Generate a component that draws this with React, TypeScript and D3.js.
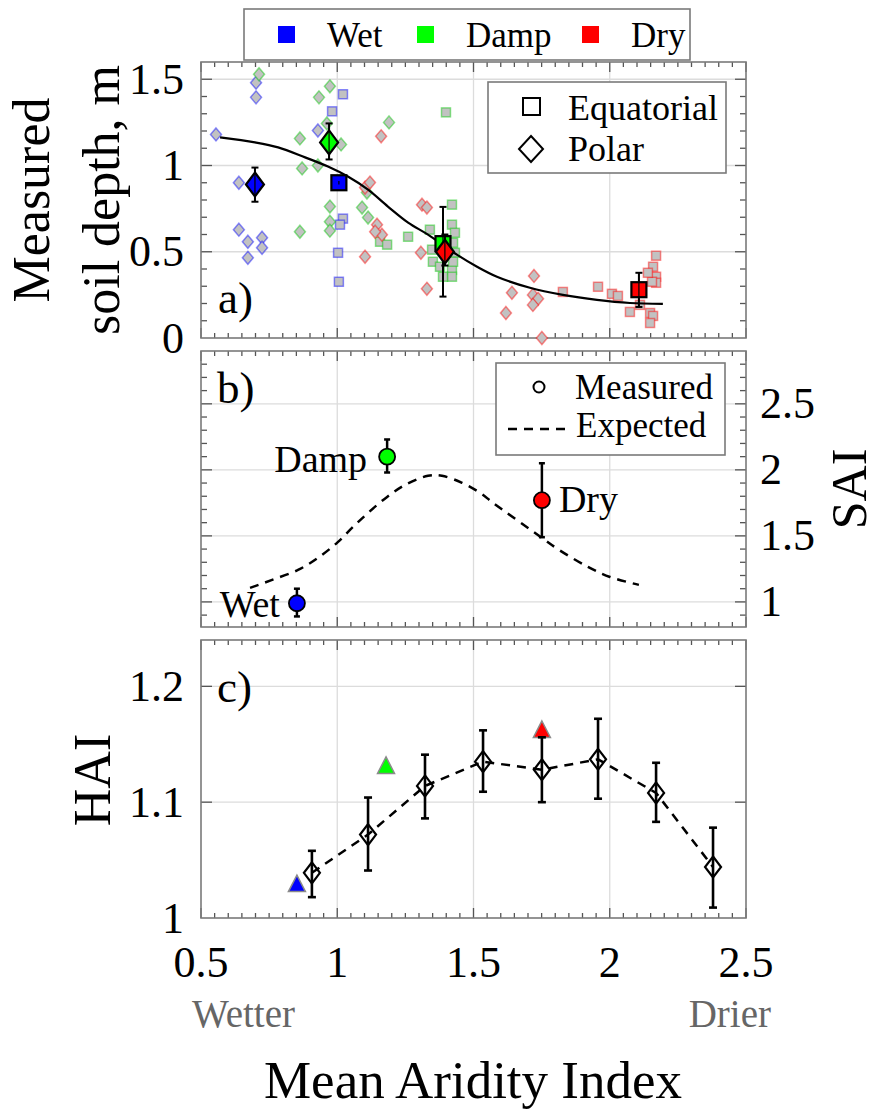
import React from 'react'
import * as d3 from 'd3'

// aridity index vs soil depth (panel a), small site samples
const wetPolar = [
  [0.555, 1.18], [0.702, 1.48], [0.702, 1.395], [0.639, 0.9], [0.639, 0.628],
  [0.672, 0.558], [0.672, 0.465], [0.724, 0.581], [0.724, 0.523], [0.929, 1.203],
]
const wetEquat = [
  [1.021, 1.413], [0.981, 1.314], [1.021, 0.692], [1.01, 0.657], [1.003, 0.494], [1.006, 0.326],
]
const dampPolar = [
  [0.713, 1.529], [0.863, 1.157], [0.871, 0.983], [0.929, 1.0], [0.933, 1.395], [0.973, 1.459],
  [0.962, 1.244], [0.973, 0.762], [0.973, 0.674], [0.973, 0.622], [0.863, 0.616], [1.014, 1.122],
  [1.091, 0.756], [1.113, 0.698], [1.19, 1.25], [1.109, 0.843],
]
const dampEquat = [
  [1.157, 0.558], [1.183, 0.541], [1.26, 0.587], [1.34, 0.628], [1.399, 1.308], [1.421, 0.773],
  [1.421, 0.657], [1.432, 0.61], [1.425, 0.552], [1.348, 0.512], [1.351, 0.442], [1.377, 0.413],
  [1.421, 0.395], [1.421, 0.355], [1.388, 0.355], [1.432, 0.494], [1.425, 0.442],
]
const dryPolar = [
  [1.161, 1.169], [1.102, 0.872], [1.12, 0.901], [1.146, 0.657], [1.164, 0.599], [1.139, 0.616],
  [1.102, 0.471], [1.311, 0.773], [1.329, 0.756], [1.307, 0.494], [1.329, 0.285], [1.722, 0.36],
  [1.641, 0.262], [1.619, 0.145], [1.718, 0.25], [1.737, 0.227], [1.718, 0.192], [1.751, 0.0],
]
const dryEquat = [
  [1.828, 0.267], [1.957, 0.297], [2.008, 0.256], [2.03, 0.244], [2.074, 0.151], [2.111, 0.192],
  [2.148, 0.145], [2.159, 0.128], [2.148, 0.087], [2.159, 0.413], [2.17, 0.477], [2.17, 0.355],
  [2.17, 0.32], [2.155, 0.326], [2.14, 0.378],
]

// group means: [aridity, depth, low, high]
const meanWetPolar = [0.698, 0.89, 0.79, 0.988]
const meanDampPolar = [0.97, 1.134, 1.035, 1.244]
const meanWetEquat = [1.006, 0.9, 0.89, 0.91]
const meanDampEquat = [1.388, 0.547, 0.24, 0.76]
const meanDryPolar = [1.395, 0.5, 0.42, 0.6]
const meanDryEquat = [2.107, 0.28, 0.18, 0.378]

// fitted depth curve
const fitCurve = [
  [0.57, 1.163], [0.698, 1.134], [0.783, 1.105], [0.882, 1.047], [0.966, 0.994], [1.039, 0.936],
  [1.113, 0.86], [1.186, 0.762], [1.26, 0.669], [1.333, 0.599], [1.439, 0.483], [1.513, 0.413],
  [1.586, 0.355], [1.707, 0.291], [1.828, 0.25], [1.953, 0.221], [2.074, 0.203], [2.195, 0.198],
]

// panel b: SAI
const saiGroups = ['Wet', 'Damp', 'Dry']
const saiAridity = [0.852, 1.183, 1.751]
const saiValue = [0.99, 2.1, 1.77]
const saiLow = [0.89, 1.98, 1.49]
const saiHigh = [1.1, 2.23, 2.05]
const saiExpected = [
  [0.68, 1.106], [0.761, 1.167], [0.856, 1.242], [0.929, 1.333], [1.003, 1.455], [1.058, 1.568],
  [1.113, 1.674], [1.183, 1.795], [1.249, 1.886], [1.333, 1.955], [1.384, 1.955], [1.458, 1.902],
  [1.524, 1.826], [1.572, 1.75], [1.751, 1.485], [1.814, 1.394], [1.92, 1.265], [2.001, 1.189],
  [2.107, 1.129],
]

// panel c: HAI
const haiAridity = [0.907, 1.113, 1.322, 1.535, 1.751, 1.957, 2.17, 2.379]
const haiValue = [1.039, 1.072, 1.114, 1.135, 1.128, 1.137, 1.108, 1.044]
const haiLow = [1.018, 1.041, 1.086, 1.109, 1.1, 1.103, 1.083, 1.009]
const haiHigh = [1.058, 1.104, 1.141, 1.162, 1.156, 1.172, 1.134, 1.078]
const haiGroupAridity = [0.852, 1.179, 1.751]
const haiGroupValue = [1.029, 1.131, 1.162]

const groupColors = { Wet: '#0000ff', Damp: '#00ff00', Dry: '#ff0000' }
const xTicks = [0.5, 1, 1.5, 2, 2.5]
const depthTicks = [0, 0.5, 1, 1.5]
const saiTicks = [1, 1.5, 2, 2.5]
const haiTicks = [1, 1.1, 1.2]

const FONT = "'Liberation Serif', 'Times New Roman', Times, serif"
const X0 = 201
const X1 = 746

const x = d3.scaleLinear().domain([0.5, 2.5]).range([X0, X1])
const ya = d3.scaleLinear().domain([0, 1.6]).range([338, 62])
const yb = d3.scaleLinear().domain([0.81, 2.9]).range([627, 351])
const yc = d3.scaleLinear().domain([1, 1.24]).range([918, 640])

const diamond = (cx, cy, w, h) =>
  `M${cx},${cy - h / 2}L${cx + w / 2},${cy}L${cx},${cy + h / 2}L${cx - w / 2},${cy}Z`
const triangle = (cx, cy, s) =>
  `M${cx},${cy - s * 0.55}L${cx + s / 2},${cy + s * 0.42}L${cx - s / 2},${cy + s * 0.42}Z`

const xMinor = d3.range(0.5, 2.5001, 0.05).map((v) => +v.toFixed(2))

function Frame({ y, yMinor, yMajor, yGrid }) {
  const [bottom, top] = y.range()
  return (
    <g>
      {[1, 1.5, 2].map((v) => (
        <line key={'gx' + v} x1={x(v)} x2={x(v)} y1={top} y2={bottom} stroke="#dcdcdc" strokeWidth={1.3} />
      ))}
      {yGrid.map((v) => (
        <line key={'gy' + v} x1={X0} x2={X1} y1={y(v)} y2={y(v)} stroke="#dcdcdc" strokeWidth={1.3} />
      ))}
      {xMinor.map((v, i) => {
        const major = i % 10 === 0
        const len = major ? 10 : 5
        return (
          <g key={'xt' + i} stroke="#555" strokeWidth={1.3}>
            <line x1={x(v)} x2={x(v)} y1={bottom} y2={bottom - len} />
            <line x1={x(v)} x2={x(v)} y1={top} y2={top + len} />
          </g>
        )
      })}
      {yMinor.map((v, i) => (
        <g key={'ym' + i} stroke="#555" strokeWidth={1.3}>
          <line x1={X0} x2={X0 + 6} y1={y(v)} y2={y(v)} />
          <line x1={X1} x2={X1 - 6} y1={y(v)} y2={y(v)} />
        </g>
      ))}
      {yMajor.map((v, i) => (
        <g key={'yM' + i} stroke="#555" strokeWidth={1.3}>
          <line x1={X0} x2={X0 + 11} y1={y(v)} y2={y(v)} />
          <line x1={X1} x2={X1 - 11} y1={y(v)} y2={y(v)} />
        </g>
      ))}
      <rect x={X0} y={top} width={X1 - X0} height={bottom - top} fill="none" stroke="#7a7a7a" strokeWidth={1.6} />
    </g>
  )
}

function ErrorBar({ cx, y1, y2, w = 8, sw = 2.5 }) {
  return (
    <g stroke="#000" strokeWidth={sw}>
      <line x1={cx} x2={cx} y1={y1} y2={y2} />
      <line x1={cx - w / 2} x2={cx + w / 2} y1={y1} y2={y1} />
      <line x1={cx - w / 2} x2={cx + w / 2} y1={y2} y2={y2} />
    </g>
  )
}

function SmallPoints({ data, color, shape }) {
  return (
    <g>
      {data.map(([a, d], i) =>
        shape === 'diamond' ? (
          <path key={i} d={diamond(x(a), ya(d), 11, 13)} fill="#c2c2c2" stroke={color} strokeOpacity={0.45} strokeWidth={1.5} />
        ) : (
          <rect key={i} x={x(a) - 4.5} y={ya(d) - 4.5} width={9} height={9} fill="#c2c2c2" stroke={color} strokeOpacity={0.45} strokeWidth={1.5} />
        )
      )}
    </g>
  )
}

function MeanMarker({ m, color, shape }) {
  const [a, d, lo, hi] = m
  const cx = x(a)
  const cy = ya(d)
  return (
    <g>
      <ErrorBar cx={cx} y1={ya(hi)} y2={ya(lo)} w={7} sw={2} />
      {shape === 'diamond' ? (
        <path d={diamond(cx, cy, 18, 24)} fill={color} stroke="#000" strokeWidth={2.2} />
      ) : (
        <rect x={cx - 7.5} y={cy - 7.5} width={15} height={15} fill={color} stroke="#000" strokeWidth={2.2} />
      )}
      <line x1={cx} x2={cx} y1={ya(hi)} y2={ya(lo)} stroke="#000" strokeWidth={1.2} />
    </g>
  )
}

export default function App() {
  const fitLine = d3.line().x((d) => x(d[0])).y((d) => ya(d[1])).curve(d3.curveCatmullRom)
  const saiLine = d3.line().x((d) => x(d[0])).y((d) => yb(d[1])).curve(d3.curveCatmullRom)
  const haiLine = d3.line().x((d) => x(d[0])).y((d) => yc(d[1]))
  const haiPts = haiAridity.map((a, i) => [a, haiValue[i]])

  const depthMinor = d3.range(0.1, 1.6, 0.1).map((v) => +v.toFixed(1)).filter((v) => Math.abs(v * 2 - Math.round(v * 2)) > 1e-6)
  const saiMinor = d3.range(0.9, 2.9, 0.1).map((v) => +v.toFixed(1)).filter((v) => Math.abs(v * 2 - Math.round(v * 2)) > 1e-6)

  const legendItems = ['Wet', 'Damp', 'Dry']
  const legendX = [278, 417, 582]

  return (
    <svg width={879} height={1112} style={{ position: 'absolute', left: 0, top: 0, background: '#fff' }} fontFamily={FONT}>
      <rect width={879} height={1112} fill="#fff" />

      {/* top legend */}
      <rect x={244} y={9} width={446} height={51} fill="#fff" stroke="#7a7a7a" strokeWidth={1.6} />
      {legendItems.map((g, i) => (
        <g key={g}>
          <rect x={legendX[i]} y={26} width={17} height={17} fill={groupColors[g]} />
          <text x={legendX[i] + 49} y={47} fontSize={35}>{g}</text>
        </g>
      ))}

      {/* panel a */}
      <Frame y={ya} yMinor={depthMinor} yMajor={[0.5, 1, 1.5]} yGrid={[0.5, 1, 1.5]} />
      <SmallPoints data={wetPolar} color="#0000ff" shape="diamond" />
      <SmallPoints data={wetEquat} color="#0000ff" shape="square" />
      <SmallPoints data={dampPolar} color="#00c800" shape="diamond" />
      <SmallPoints data={dampEquat} color="#00c800" shape="square" />
      <SmallPoints data={dryPolar} color="#ff0000" shape="diamond" />
      <SmallPoints data={dryEquat} color="#ff0000" shape="square" />
      <path d={fitLine(fitCurve)} fill="none" stroke="#000" strokeWidth={2.2} />
      <MeanMarker m={meanWetPolar} color="#0000ff" shape="diamond" />
      <MeanMarker m={meanDampPolar} color="#00ff00" shape="diamond" />
      <MeanMarker m={meanWetEquat} color="#0000ff" shape="square" />
      <MeanMarker m={meanDampEquat} color="#00ff00" shape="square" />
      <MeanMarker m={meanDryPolar} color="#ff0000" shape="diamond" />
      <MeanMarker m={meanDryEquat} color="#ff0000" shape="square" />
      <text x={218} y={313} fontSize={45}>a)</text>
      <rect x={488} y={82} width={238} height={91} fill="#fff" stroke="#7a7a7a" strokeWidth={1.6} />
      <rect x={523} y={98} width={17} height={17} fill="none" stroke="#000" strokeWidth={2} />
      <text x={568} y={120} fontSize={36}>Equatorial</text>
      <path d={diamond(531, 149, 24, 26)} fill="none" stroke="#000" strokeWidth={2} />
      <text x={568} y={161} fontSize={36}>Polar</text>
      {depthTicks.map((v) => (
        <text key={v} x={184} y={ya(v)} fontSize={44} textAnchor="end" dominantBaseline="central">{v}</text>
      ))}
      <text transform="translate(49,200) rotate(-90)" fontSize={52} textAnchor="middle">Measured</text>
      <text transform="translate(119,200) rotate(-90)" fontSize={52} textAnchor="middle">soil depth, m</text>

      {/* panel b */}
      <Frame y={yb} yMinor={saiMinor} yMajor={saiTicks} yGrid={saiTicks} />
      <path d={saiLine(saiExpected)} fill="none" stroke="#000" strokeWidth={2.5} strokeDasharray="9,7" />
      {saiGroups.map((g, i) => {
        const cx = x(saiAridity[i])
        const cy = yb(saiValue[i])
        return (
          <g key={g}>
            <ErrorBar cx={cx} y1={yb(saiHigh[i])} y2={yb(saiLow[i])} w={6} sw={2.5} />
            <circle cx={cx} cy={cy} r={8} fill={groupColors[g]} stroke="#000" strokeWidth={1.8} />
            <text
              x={g === 'Dry' ? cx + 17 : cx - (g === 'Damp' ? 20 : 17)}
              y={g === 'Dry' ? cy + 12 : g === 'Damp' ? cy + 15 : cy + 14}
              fontSize={38}
              textAnchor={g === 'Dry' ? 'start' : 'end'}
            >
              {g}
            </text>
          </g>
        )
      })}
      <text x={217} y={403} fontSize={45}>b)</text>
      <rect x={496} y={363} width={229} height={92} fill="#fff" stroke="#7a7a7a" strokeWidth={1.6} />
      <circle cx={539} cy={387} r={5.5} fill="none" stroke="#000" strokeWidth={2} />
      <text x={575} y={399} fontSize={35}>Measured</text>
      <line x1={508} x2={566} y1={429} y2={429} stroke="#000" strokeWidth={2.5} strokeDasharray="9,7" />
      <text x={576} y={437} fontSize={35}>Expected</text>
      {saiTicks.map((v) => (
        <text key={v} x={760} y={yb(v)} fontSize={44} dominantBaseline="central">{v}</text>
      ))}
      <text transform="translate(866,489) rotate(-90)" fontSize={50} textAnchor="middle">SAI</text>

      {/* panel c */}
      <Frame y={yc} yMinor={[]} yMajor={[1.1, 1.2]} yGrid={[1.1, 1.2]} />
      <path d={haiLine(haiPts)} fill="none" stroke="#000" strokeWidth={2.5} strokeDasharray="9,7" />
      {haiGroupAridity.map((a, i) => (
        <path key={'t' + i} d={triangle(x(a), yc(haiGroupValue[i]), 17)} fill={groupColors[saiGroups[i]]} stroke="#8a8a8a" strokeWidth={1.5} />
      ))}
      {haiPts.map(([a, v], i) => (
        <g key={'h' + i}>
          <path d={diamond(x(a), yc(v), 16, 21)} fill="none" stroke="#000" strokeWidth={2.2} />
          <ErrorBar cx={x(a)} y1={yc(haiHigh[i])} y2={yc(haiLow[i])} w={8} sw={2.6} />
        </g>
      ))}
      <text x={217} y={702} fontSize={45}>c)</text>
      {haiTicks.map((v) => (
        <text key={v} x={184} y={yc(v)} fontSize={44} textAnchor="end" dominantBaseline="central">{v}</text>
      ))}
      <text transform="translate(110,780) rotate(-90)" fontSize={52} textAnchor="middle">HAI</text>

      {/* x axis */}
      {xTicks.map((v) => (
        <text key={v} x={x(v)} y={977} fontSize={44} textAnchor="middle">{v}</text>
      ))}
      <text x={192} y={1027} fontSize={39} fill="#666">Wetter</text>
      <text x={771} y={1027} fontSize={39} fill="#666" textAnchor="end">Drier</text>
      <text x={473} y={1098} fontSize={53} textAnchor="middle">Mean Aridity Index</text>
    </svg>
  )
}
